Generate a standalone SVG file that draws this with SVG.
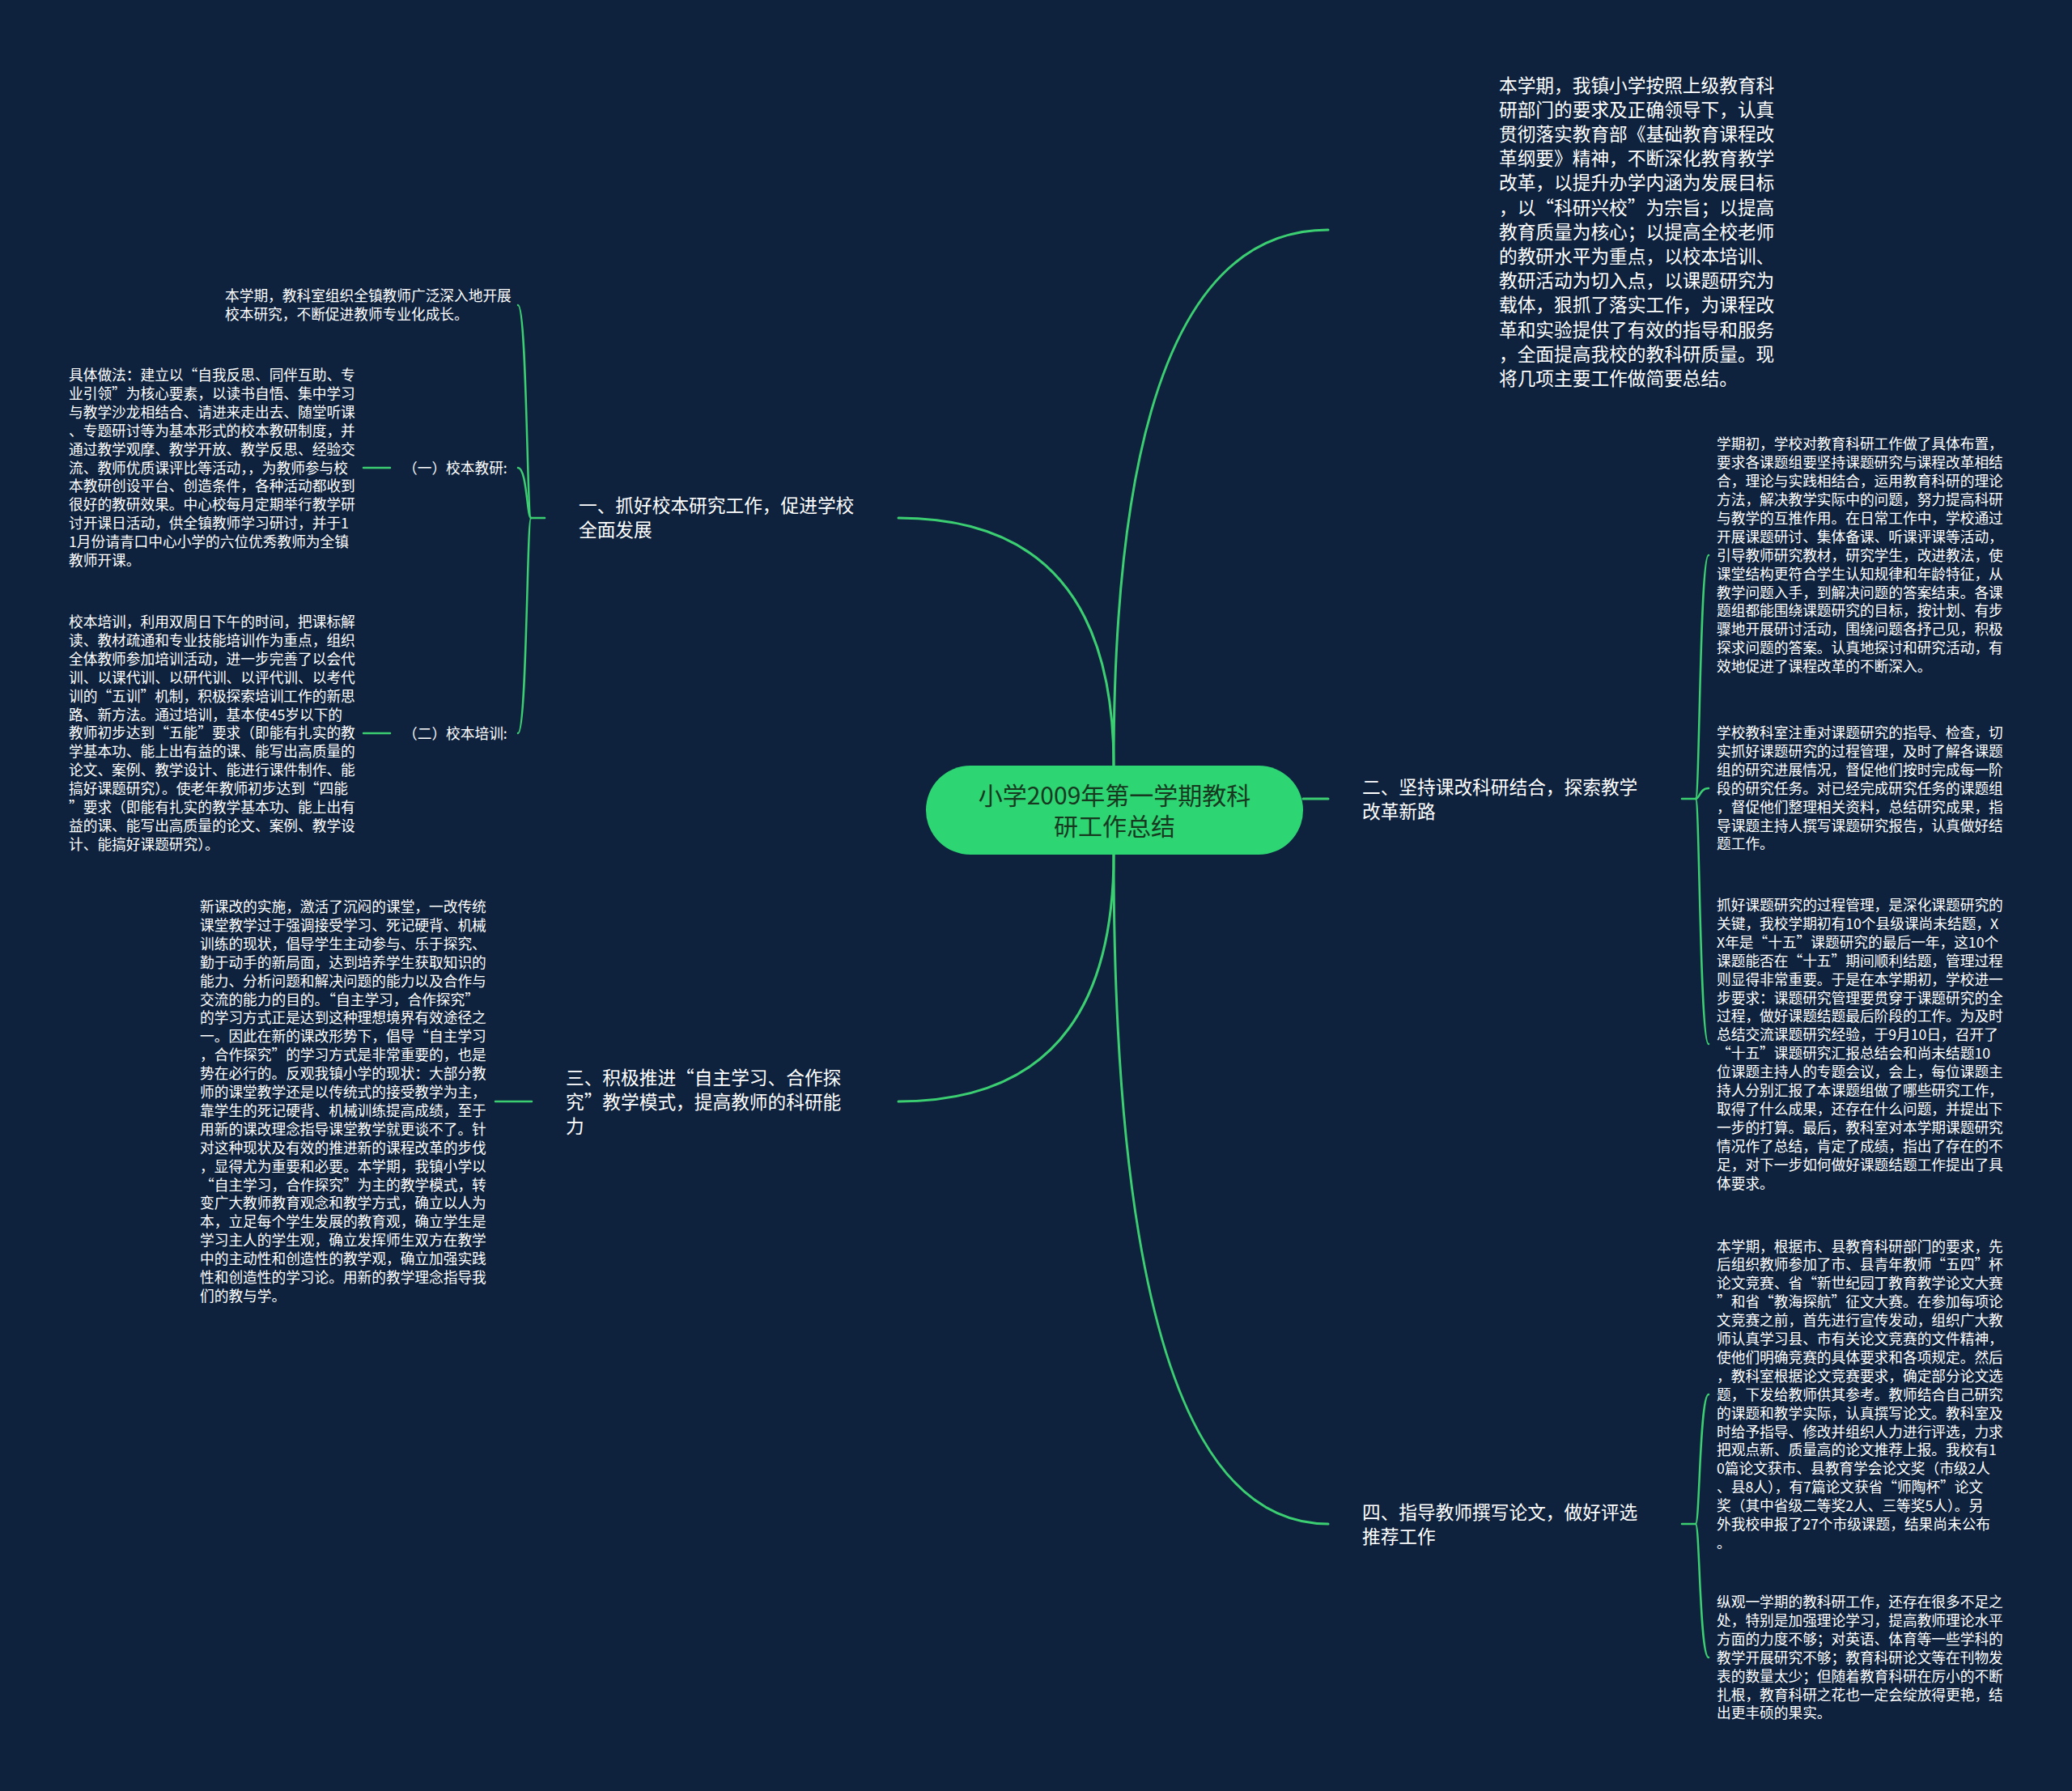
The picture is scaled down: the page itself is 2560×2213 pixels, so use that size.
<svg xmlns="http://www.w3.org/2000/svg" width="2560" height="2213" viewBox="0 0 2560 2213">
<style>
text{font-family:"Noto Sans CJK SC","Noto Sans",sans-serif;fill:#ffffff}
.t1{font-size:22.7px}
.t2{font-size:17.7px}
.ct{font-size:30px;fill:#17391f;text-anchor:middle}
.ln{fill:none;stroke:#3ccf72;stroke-width:3;stroke-linecap:round}
.lt{fill:none;stroke:#3ccf72;stroke-width:2.5;stroke-linecap:round}
</style>
<rect x="0" y="0" width="2560" height="2213" fill="#0e223e"/>
<g id="connectors">
<path class="ln" d="M1376 946 Q1376 284 1641 284"/>
<path class="ln" d="M1376 946 Q1376 640 1110 640"/>
<path class="ln" d="M1610 987 L1641 987"/>
<path class="ln" d="M1376 1056 Q1376 1361 1110 1361"/>
<path class="ln" d="M1376 1056 Q1376 1883 1641 1883"/>
<path class="lt" d="M673 640 L656 640"/>
<path class="lt" d="M656 640 C651 640 651 377 640 377"/>
<path class="lt" d="M656 640 C651 640 651 578 640 578"/>
<path class="lt" d="M656 640 C651 640 651 906 640 906"/>
<path class="lt" d="M482 578 L449 578"/>
<path class="lt" d="M482 906 L449 906"/>
<path class="lt" d="M657 1361 L612 1361"/>
<path class="lt" d="M2078 987 L2095 987"/>
<path class="lt" d="M2095 987 C2100 987 2100 686 2111 686"/>
<path class="lt" d="M2095 987 C2100 987 2100 974 2111 974"/>
<path class="lt" d="M2095 987 C2100 987 2100 1290 2111 1290"/>
<path class="lt" d="M2078 1883 L2095 1883"/>
<path class="lt" d="M2095 1883 C2100 1883 2100 1723 2111 1723"/>
<path class="lt" d="M2095 1883 C2100 1883 2100 2048 2111 2048"/>
</g>
<g id="center">
<rect x="1144" y="946" width="466" height="110" rx="55" fill="#2ed573"/>
<text class="ct"><tspan x="1377" y="994">小学2009年第一学期教科</tspan><tspan x="1377" y="1032">研工作总结</tspan></text>
</g>
<g id="intro">
<text class="t1"><tspan x="1852" y="113.6">本学期，我镇小学按照上级教育科</tspan><tspan x="1852" dy="30.2">研部门的要求及正确领导下，认真</tspan><tspan x="1852" dy="30.2">贯彻落实教育部《基础教育课程改</tspan><tspan x="1852" dy="30.2">革纲要》精神，不断深化教育教学</tspan><tspan x="1852" dy="30.2">改革，以提升办学内涵为发展目标</tspan><tspan x="1852" dy="30.2">，以“科研兴校”为宗旨；以提高</tspan><tspan x="1852" dy="30.2">教育质量为核心；以提高全校老师</tspan><tspan x="1852" dy="30.2">的教研水平为重点，以校本培训、</tspan><tspan x="1852" dy="30.2">教研活动为切入点，以课题研究为</tspan><tspan x="1852" dy="30.2">载体，狠抓了落实工作，为课程改</tspan><tspan x="1852" dy="30.2">革和实验提供了有效的指导和服务</tspan><tspan x="1852" dy="30.2">，全面提高我校的教科研质量。现</tspan><tspan x="1852" dy="30.2">将几项主要工作做简要总结。</tspan></text>
</g>
<g id="b1">
<text class="t1"><tspan x="715" y="633">一、抓好校本研究工作，促进学校</tspan><tspan x="715" dy="30.2">全面发展</tspan></text>
</g>
<g id="b1-intro">
<text class="t2"><tspan x="278" y="372">本学期，教科室组织全镇教师广泛深入地开展</tspan><tspan x="278" dy="22.9">校本研究，不断促进教师专业化成长。</tspan></text>
</g>
<g id="b1-1">
<text class="t2" x="498" y="585">（一）校本教研:</text>
</g>
<g id="b1-1-1">
<text class="t2"><tspan x="85" y="470">具体做法：建立以“自我反思、同伴互助、专</tspan><tspan x="85" dy="22.9">业引领”为核心要素，以读书自悟、集中学习</tspan><tspan x="85" dy="22.9">与教学沙龙相结合、请进来走出去、随堂听课</tspan><tspan x="85" dy="22.9">、专题研讨等为基本形式的校本教研制度，并</tspan><tspan x="85" dy="22.9">通过教学观摩、教学开放、教学反思、经验交</tspan><tspan x="85" dy="22.9">流、教师优质课评比等活动，，为教师参与校</tspan><tspan x="85" dy="22.9">本教研创设平台、创造条件，各种活动都收到</tspan><tspan x="85" dy="22.9">很好的教研效果。中心校每月定期举行教学研</tspan><tspan x="85" dy="22.9">讨开课日活动，供全镇教师学习研讨，并于1</tspan><tspan x="85" dy="22.9">1月份请青口中心小学的六位优秀教师为全镇</tspan><tspan x="85" dy="22.9">教师开课。</tspan></text>
</g>
<g id="b1-2">
<text class="t2" x="498" y="913">（二）校本培训:</text>
</g>
<g id="b1-2-1">
<text class="t2"><tspan x="85" y="775">校本培训，利用双周日下午的时间，把课标解</tspan><tspan x="85" dy="22.9">读、教材疏通和专业技能培训作为重点，组织</tspan><tspan x="85" dy="22.9">全体教师参加培训活动，进一步完善了以会代</tspan><tspan x="85" dy="22.9">训、以课代训、以研代训、以评代训、以考代</tspan><tspan x="85" dy="22.9">训的“五训”机制，积极探索培训工作的新思</tspan><tspan x="85" dy="22.9">路、新方法。通过培训，基本使45岁以下的</tspan><tspan x="85" dy="22.9">教师初步达到“五能”要求（即能有扎实的教</tspan><tspan x="85" dy="22.9">学基本功、能上出有益的课、能写出高质量的</tspan><tspan x="85" dy="22.9">论文、案例、教学设计、能进行课件制作、能</tspan><tspan x="85" dy="22.9">搞好课题研究）。使老年教师初步达到“四能</tspan><tspan x="85" dy="22.9">”要求（即能有扎实的教学基本功、能上出有</tspan><tspan x="85" dy="22.9">益的课、能写出高质量的论文、案例、教学设</tspan><tspan x="85" dy="22.9">计、能搞好课题研究）。</tspan></text>
</g>
<g id="b3">
<text class="t1"><tspan x="699" y="1339.6">三、积极推进“自主学习、合作探</tspan><tspan x="699" dy="30.2">究”教学模式，提高教师的科研能</tspan><tspan x="699" dy="30.2">力</tspan></text>
</g>
<g id="b3-1">
<text class="t2"><tspan x="247" y="1127">新课改的实施，激活了沉闷的课堂，一改传统</tspan><tspan x="247" dy="22.9">课堂教学过于强调接受学习、死记硬背、机械</tspan><tspan x="247" dy="22.9">训练的现状，倡导学生主动参与、乐于探究、</tspan><tspan x="247" dy="22.9">勤于动手的新局面，达到培养学生获取知识的</tspan><tspan x="247" dy="22.9">能力、分析问题和解决问题的能力以及合作与</tspan><tspan x="247" dy="22.9">交流的能力的目的。“自主学习，合作探究”</tspan><tspan x="247" dy="22.9">的学习方式正是达到这种理想境界有效途径之</tspan><tspan x="247" dy="22.9">一。因此在新的课改形势下，倡导“自主学习</tspan><tspan x="247" dy="22.9">，合作探究”的学习方式是非常重要的，也是</tspan><tspan x="247" dy="22.9">势在必行的。反观我镇小学的现状：大部分教</tspan><tspan x="247" dy="22.9">师的课堂教学还是以传统式的接受教学为主，</tspan><tspan x="247" dy="22.9">靠学生的死记硬背、机械训练提高成绩，至于</tspan><tspan x="247" dy="22.9">用新的课改理念指导课堂教学就更谈不了。针</tspan><tspan x="247" dy="22.9">对这种现状及有效的推进新的课程改革的步伐</tspan><tspan x="247" dy="22.9">，显得尤为重要和必要。本学期，我镇小学以</tspan><tspan x="247" dy="22.9">“自主学习，合作探究”为主的教学模式，转</tspan><tspan x="247" dy="22.9">变广大教师教育观念和教学方式，确立以人为</tspan><tspan x="247" dy="22.9">本，立足每个学生发展的教育观，确立学生是</tspan><tspan x="247" dy="22.9">学习主人的学生观，确立发挥师生双方在教学</tspan><tspan x="247" dy="22.9">中的主动性和创造性的教学观，确立加强实践</tspan><tspan x="247" dy="22.9">性和创造性的学习论。用新的教学理念指导我</tspan><tspan x="247" dy="22.9">们的教与学。</tspan></text>
</g>
<g id="b2">
<text class="t1"><tspan x="1683" y="980.5">二、坚持课改科研结合，探索教学</tspan><tspan x="1683" dy="30.2">改革新路</tspan></text>
</g>
<g id="b2-1">
<text class="t2"><tspan x="2121" y="555.3">学期初，学校对教育科研工作做了具体布置，</tspan><tspan x="2121" dy="22.9">要求各课题组要坚持课题研究与课程改革相结</tspan><tspan x="2121" dy="22.9">合，理论与实践相结合，运用教育科研的理论</tspan><tspan x="2121" dy="22.9">方法，解决教学实际中的问题，努力提高科研</tspan><tspan x="2121" dy="22.9">与教学的互推作用。在日常工作中，学校通过</tspan><tspan x="2121" dy="22.9">开展课题研讨、集体备课、听课评课等活动，</tspan><tspan x="2121" dy="22.9">引导教师研究教材，研究学生，改进教法，使</tspan><tspan x="2121" dy="22.9">课堂结构更符合学生认知规律和年龄特征，从</tspan><tspan x="2121" dy="22.9">教学问题入手，到解决问题的答案结束。各课</tspan><tspan x="2121" dy="22.9">题组都能围绕课题研究的目标，按计划、有步</tspan><tspan x="2121" dy="22.9">骤地开展研讨活动，围绕问题各抒己见，积极</tspan><tspan x="2121" dy="22.9">探求问题的答案。认真地探讨和研究活动，有</tspan><tspan x="2121" dy="22.9">效地促进了课程改革的不断深入。</tspan></text>
</g>
<g id="b2-2">
<text class="t2"><tspan x="2121" y="912">学校教科室注重对课题研究的指导、检查，切</tspan><tspan x="2121" dy="22.9">实抓好课题研究的过程管理，及时了解各课题</tspan><tspan x="2121" dy="22.9">组的研究进展情况，督促他们按时完成每一阶</tspan><tspan x="2121" dy="22.9">段的研究任务。对已经完成研究任务的课题组</tspan><tspan x="2121" dy="22.9">，督促他们整理相关资料，总结研究成果，指</tspan><tspan x="2121" dy="22.9">导课题主持人撰写课题研究报告，认真做好结</tspan><tspan x="2121" dy="22.9">题工作。</tspan></text>
</g>
<g id="b2-3">
<text class="t2"><tspan x="2121" y="1125">抓好课题研究的过程管理，是深化课题研究的</tspan><tspan x="2121" dy="22.9">关键，我校学期初有10个县级课尚未结题，X</tspan><tspan x="2121" dy="22.9">X年是“十五”课题研究的最后一年，这10个</tspan><tspan x="2121" dy="22.9">课题能否在“十五”期间顺利结题，管理过程</tspan><tspan x="2121" dy="22.9">则显得非常重要。于是在本学期初，学校进一</tspan><tspan x="2121" dy="22.9">步要求：课题研究管理要贯穿于课题研究的全</tspan><tspan x="2121" dy="22.9">过程，做好课题结题最后阶段的工作。为及时</tspan><tspan x="2121" dy="22.9">总结交流课题研究经验，于9月10日，召开了</tspan><tspan x="2121" dy="22.9">“十五”课题研究汇报总结会和尚未结题10</tspan><tspan x="2121" dy="22.9">位课题主持人的专题会议，会上，每位课题主</tspan><tspan x="2121" dy="22.9">持人分别汇报了本课题组做了哪些研究工作，</tspan><tspan x="2121" dy="22.9">取得了什么成果，还存在什么问题，并提出下</tspan><tspan x="2121" dy="22.9">一步的打算。最后，教科室对本学期课题研究</tspan><tspan x="2121" dy="22.9">情况作了总结，肯定了成绩，指出了存在的不</tspan><tspan x="2121" dy="22.9">足，对下一步如何做好课题结题工作提出了具</tspan><tspan x="2121" dy="22.9">体要求。</tspan></text>
</g>
<g id="b4">
<text class="t1"><tspan x="1683" y="1876.5">四、指导教师撰写论文，做好评选</tspan><tspan x="1683" dy="30.2">推荐工作</tspan></text>
</g>
<g id="b4-1">
<text class="t2"><tspan x="2121" y="1546.5">本学期，根据市、县教育科研部门的要求，先</tspan><tspan x="2121" dy="22.9">后组织教师参加了市、县青年教师“五四”杯</tspan><tspan x="2121" dy="22.9">论文竞赛、省“新世纪园丁教育教学论文大赛</tspan><tspan x="2121" dy="22.9">”和省“教海探航”征文大赛。在参加每项论</tspan><tspan x="2121" dy="22.9">文竞赛之前，首先进行宣传发动，组织广大教</tspan><tspan x="2121" dy="22.9">师认真学习县、市有关论文竞赛的文件精神，</tspan><tspan x="2121" dy="22.9">使他们明确竞赛的具体要求和各项规定。然后</tspan><tspan x="2121" dy="22.9">，教科室根据论文竞赛要求，确定部分论文选</tspan><tspan x="2121" dy="22.9">题，下发给教师供其参考。教师结合自己研究</tspan><tspan x="2121" dy="22.9">的课题和教学实际，认真撰写论文。教科室及</tspan><tspan x="2121" dy="22.9">时给予指导、修改并组织人力进行评选，力求</tspan><tspan x="2121" dy="22.9">把观点新、质量高的论文推荐上报。我校有1</tspan><tspan x="2121" dy="22.9">0篇论文获市、县教育学会论文奖（市级2人</tspan><tspan x="2121" dy="22.9">、县8人），有7篇论文获省“师陶杯”论文</tspan><tspan x="2121" dy="22.9">奖（其中省级二等奖2人、三等奖5人）。另</tspan><tspan x="2121" dy="22.9">外我校申报了27个市级课题，结果尚未公布</tspan><tspan x="2121" dy="22.9">。</tspan></text>
</g>
<g id="b4-2">
<text class="t2"><tspan x="2121" y="1986">纵观一学期的教科研工作，还存在很多不足之</tspan><tspan x="2121" dy="22.9">处，特别是加强理论学习，提高教师理论水平</tspan><tspan x="2121" dy="22.9">方面的力度不够；对英语、体育等一些学科的</tspan><tspan x="2121" dy="22.9">教学开展研究不够；教育科研论文等在刊物发</tspan><tspan x="2121" dy="22.9">表的数量太少；但随着教育科研在厉小的不断</tspan><tspan x="2121" dy="22.9">扎根，教育科研之花也一定会绽放得更艳，结</tspan><tspan x="2121" dy="22.9">出更丰硕的果实。</tspan></text>
</g>
</svg>
